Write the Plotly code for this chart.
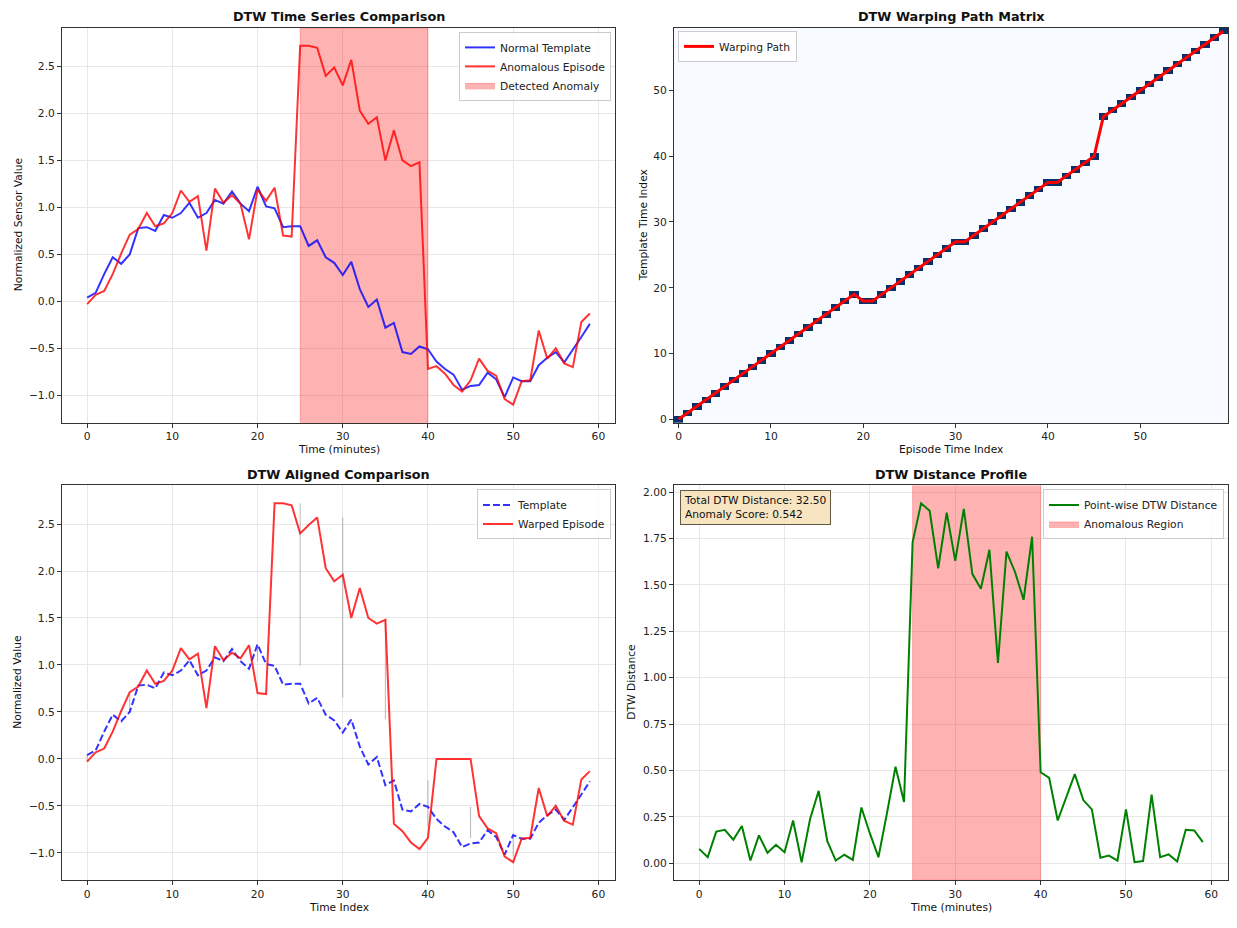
import numpy as np
import plotly.graph_objects as go

# ---------------- data ----------------
time_idx = list(range(60))

template = [0.04, 0.09, 0.29, 0.47, 0.40, 0.50, 0.78, 0.79, 0.75, 0.92,
            0.89, 0.94, 1.05, 0.89, 0.94, 1.08, 1.04, 1.17, 1.04, 0.96,
            1.22, 1.01, 0.99, 0.79, 0.80, 0.80, 0.59, 0.65, 0.47, 0.41,
            0.28, 0.42, 0.13, -0.06, 0.02, -0.28, -0.23, -0.54, -0.56, -0.48,
            -0.51, -0.64, -0.72, -0.78, -0.94, -0.90, -0.89, -0.76, -0.83, -1.02,
            -0.81, -0.85, -0.85, -0.68, -0.60, -0.54, -0.65, -0.52, -0.38, -0.24]

episode = [-0.03, 0.07, 0.11, 0.29, 0.51, 0.71, 0.77, 0.94, 0.80, 0.83,
           0.94, 1.18, 1.06, 1.12, 0.54, 1.20, 1.05, 1.13, 1.04, 0.66,
           1.19, 1.07, 1.21, 0.70, 0.69, 2.72, 2.72, 2.70, 2.40, 2.49,
           2.30, 2.57, 2.03, 1.89, 1.96, 1.50, 1.82, 1.50, 1.44, 1.48,
           -0.72, -0.69, -0.77, -0.89, -0.96, -0.84, -0.61, -0.74, -0.79, -1.04,
           -1.10, -0.85, -0.84, -0.31, -0.61, -0.50, -0.66, -0.70, -0.22, -0.13]

warped_episode = [-0.03, 0.07, 0.11, 0.29, 0.51, 0.71, 0.77, 0.94, 0.80, 0.83,
                  0.94, 1.18, 1.06, 1.12, 0.54, 1.20, 1.05, 1.13, 1.07, 1.21,
                  0.70, 0.69, 2.72, 2.72, 2.70, 2.40, 2.49, 2.57, 2.03, 1.89,
                  1.96, 1.50, 1.82, 1.50, 1.44, 1.48, -0.69, -0.77, -0.89, -0.96,
                  -0.84, 0.00, 0.00, 0.00, 0.00, 0.00, -0.61, -0.74, -0.79, -1.04,
                  -1.10, -0.85, -0.84, -0.31, -0.61, -0.50, -0.66, -0.70, -0.22, -0.13]

dtw_distance = [0.077, 0.032, 0.17, 0.18, 0.126, 0.20, 0.014, 0.15, 0.056, 0.099,
                0.059, 0.23, 0.005, 0.24, 0.39, 0.12, 0.014, 0.045, 0.018, 0.30,
                0.16, 0.032, 0.27, 0.52, 0.33, 1.73, 1.94, 1.90, 1.59, 1.89,
                1.63, 1.91, 1.56, 1.48, 1.69, 1.08, 1.68, 1.57, 1.42, 1.76,
                0.49, 0.46, 0.23, 0.35, 0.48, 0.34, 0.29, 0.029, 0.041, 0.014,
                0.29, 0.005, 0.011, 0.37, 0.032, 0.047, 0.009, 0.18, 0.176, 0.113]

path_episode = list(range(60))
path_template = [0, 1, 2, 3, 4, 5, 6, 7, 8, 9,
                 10, 11, 12, 13, 14, 15, 16, 17, 18, 19,
                 18, 18, 19, 20, 21, 22, 23, 24, 25, 26,
                 27, 27, 28, 29, 30, 31, 32, 33, 34, 35,
                 36, 36, 37, 38, 39, 40, 46, 47, 48, 49,
                 50, 51, 52, 53, 54, 55, 56, 57, 58, 59]

conn_idx = [0, 5, 10, 15, 20, 25, 30, 35, 40, 45, 50, 55]
conn_episode = [-0.03, 0.71, 0.94, 1.20, 1.19, 2.72, 2.57, 1.48, -0.72, -0.84, -1.04, -0.50]
conn_template = [0.04, 0.50, 0.89, 1.08, 1.04, 0.99, 0.65, 0.42, -0.23, -0.51, -0.81, -0.54]

anomaly_start, anomaly_end = 25, 40
total_dtw_distance = 32.50
anomaly_score = 0.542

# ---------------- helpers ----------------
W, H = 1237, 928
FONT = "DejaVu Sans"
FS = 10.7


def px_x(p):
    return p / W


def px_y(p):
    return 1 - p / H


def mpl_range(vals, pad=0.05):
    lo, hi = min(vals), max(vals)
    d = hi - lo
    return [lo - pad * d, hi + pad * d]


BLUE = "rgba(0,0,255,0.8)"
RED = "rgba(255,0,0,0.8)"
SPAN = "rgba(255,0,0,0.3)"

fig = go.Figure()

x_rng = mpl_range(time_idx)
y1_rng = mpl_range(template + episode)
y3_rng = mpl_range(template + warped_episode + conn_episode + conn_template)
y4_rng = mpl_range(dtw_distance)

# ---------- panel 1 ----------
fig.add_trace(go.Scatter(
    x=[anomaly_start, anomaly_end, anomaly_end, anomaly_start, anomaly_start],
    y=[y1_rng[0], y1_rng[0], y1_rng[1], y1_rng[1], y1_rng[0]],
    fill="toself", fillcolor=SPAN, mode="lines", line=dict(width=0.8, color="rgba(255,0,0,0.3)"),
    name="Detected Anomaly", legend="legend", legendrank=1003, hoverinfo="skip",
    xaxis="x", yaxis="y"))
fig.add_trace(go.Scatter(x=time_idx, y=template, mode="lines", line=dict(color=BLUE, width=2),
                         name="Normal Template", legend="legend", legendrank=1001,
                         xaxis="x", yaxis="y"))
fig.add_trace(go.Scatter(x=time_idx, y=episode, mode="lines", line=dict(color=RED, width=2),
                         name="Anomalous Episode", legend="legend", legendrank=1002,
                         xaxis="x", yaxis="y"))

# ---------- panel 2 ----------
z = np.zeros((60, 60))
z[np.array(path_template), np.array(path_episode)] = 1
fig.add_trace(go.Heatmap(z=z, x=list(range(60)), y=list(range(60)),
                         colorscale=[[0, "#f7fbff"], [1, "#08306b"]], showscale=False,
                         xaxis="x2", yaxis="y2", hoverinfo="skip"))
fig.add_trace(go.Scatter(x=path_episode, y=path_template, mode="lines",
                         line=dict(color="red", width=3), name="Warping Path",
                         legend="legend2", xaxis="x2", yaxis="y2"))

# ---------- panel 3 ----------
cx, cy = [], []
for i, a, b in zip(conn_idx, conn_episode, conn_template):
    cx += [i, i, None]
    cy += [a, b, None]
fig.add_trace(go.Scatter(x=cx, y=cy, mode="lines", line=dict(color="rgba(128,128,128,0.55)", width=1),
                         showlegend=False, hoverinfo="skip", xaxis="x3", yaxis="y3"))
fig.add_trace(go.Scatter(x=time_idx, y=template, mode="lines",
                         line=dict(color=BLUE, width=2, dash="7px,3px"),
                         name="Template", legend="legend3", legendrank=1001,
                         xaxis="x3", yaxis="y3"))
fig.add_trace(go.Scatter(x=time_idx, y=warped_episode, mode="lines",
                         line=dict(color=RED, width=2),
                         name="Warped Episode", legend="legend3", legendrank=1002,
                         xaxis="x3", yaxis="y3"))

# ---------- panel 4 ----------
fig.add_trace(go.Scatter(
    x=[anomaly_start, anomaly_end, anomaly_end, anomaly_start, anomaly_start],
    y=[y4_rng[0], y4_rng[0], y4_rng[1], y4_rng[1], y4_rng[0]],
    fill="toself", fillcolor=SPAN, mode="lines", line=dict(width=0.8, color="rgba(255,0,0,0.3)"),
    name="Anomalous Region", legend="legend4", legendrank=1002, hoverinfo="skip",
    xaxis="x4", yaxis="y4"))
fig.add_trace(go.Scatter(x=time_idx, y=dtw_distance, mode="lines",
                         line=dict(color="green", width=2),
                         name="Point-wise DTW Distance", legend="legend4", legendrank=1001,
                         xaxis="x4", yaxis="y4"))

# ---------------- layout ----------------
L1, R1 = 62, 615
L2, R2 = 674, 1228
T1, B1 = 28, 424
T2, B2 = 487, 883

axis_common = dict(showline=True, mirror=True, linecolor="#333333", linewidth=1,
                   ticks="outside", ticklen=4, tickcolor="#333333",
                   showgrid=True, gridcolor="#e8e8e8", gridwidth=1, zeroline=False,
                   tickfont=dict(family=FONT, size=FS, color="#222222"))

fig.update_layout(
    width=W, height=H, margin=dict(l=0, r=0, t=0, b=0),
    paper_bgcolor="white", plot_bgcolor="white",
    font=dict(family=FONT, size=FS, color="#222222"),
    xaxis=dict(domain=[px_x(L1), px_x(R1)], anchor="y", range=x_rng,
               tickvals=[0, 10, 20, 30, 40, 50, 60], **axis_common),
    yaxis=dict(domain=[px_y(B1), px_y(T1)], anchor="x", range=y1_rng,
               tickvals=[-1.0, -0.5, 0.0, 0.5, 1.0, 1.5, 2.0, 2.5], tickformat=".1f", **axis_common),
    xaxis2=dict(domain=[px_x(L2), px_x(R2)], anchor="y2", range=[-0.5, 59.5],
                tickvals=[0, 10, 20, 30, 40, 50], **{**axis_common, "showgrid": False}),
    yaxis2=dict(domain=[px_y(B1), px_y(T1)], anchor="x2", range=[-0.5, 59.5],
                tickvals=[0, 10, 20, 30, 40, 50], **{**axis_common, "showgrid": False}),
    xaxis3=dict(domain=[px_x(L1), px_x(R1)], anchor="y3", range=x_rng,
                tickvals=[0, 10, 20, 30, 40, 50, 60], **axis_common),
    yaxis3=dict(domain=[px_y(B2), px_y(T2)], anchor="x3", range=y3_rng,
                tickvals=[-1.0, -0.5, 0.0, 0.5, 1.0, 1.5, 2.0, 2.5], tickformat=".1f", **axis_common),
    xaxis4=dict(domain=[px_x(L2), px_x(R2)], anchor="y4", range=x_rng,
                tickvals=[0, 10, 20, 30, 40, 50, 60], **axis_common),
    yaxis4=dict(domain=[px_y(B2), px_y(T2)], anchor="x4", range=y4_rng,
                tickvals=[0, 0.25, 0.5, 0.75, 1.0, 1.25, 1.5, 1.75, 2.0], tickformat=".2f", **axis_common),
)

legend_common = dict(bgcolor="rgba(255,255,255,0.8)", bordercolor="#cccccc", borderwidth=1,
                     font=dict(family=FONT, size=FS, color="#222222"), tracegroupgap=0,
                     itemwidth=30, yanchor="top")
fig.update_layout(
    legend=dict(x=px_x(R1 - 4), y=px_y(T1 + 4), xanchor="right", **legend_common),
    legend2=dict(x=px_x(L2 + 4), y=px_y(T1 + 3), xanchor="left", **legend_common),
    legend3=dict(x=px_x(R1 - 4), y=px_y(T2 + 4), xanchor="right", **legend_common),
    legend4=dict(x=px_x(R2 - 4), y=px_y(T2 + 4), xanchor="right", **legend_common),
)

ann = []


def text(x, y, s, size=FS, bold=False, angle=0):
    ann.append(dict(x=px_x(x), y=px_y(y), xref="paper", yref="paper", text=f"<b>{s}</b>" if bold else s,
                    showarrow=False, xanchor="center", yanchor="middle", textangle=angle,
                    font=dict(family=FONT, size=size, color="#111111")))


TS = 12.8
text((L1 + R1) / 2, 17, "DTW Time Series Comparison", TS, True)
text((L2 + R2) / 2, 17, "DTW Warping Path Matrix", TS, True)
text((L1 + R1) / 2, 476, "DTW Aligned Comparison", TS, True)
text((L2 + R2) / 2, 476, "DTW Distance Profile", TS, True)

text((L1 + R1) / 2, 451, "Time (minutes)")
text((L2 + R2) / 2, 451, "Episode Time Index")
text((L1 + R1) / 2, 910, "Time Index")
text((L2 + R2) / 2, 910, "Time (minutes)")

text(18, (T1 + B1) / 2, "Normalized Sensor Value", angle=-90)
text(643, (T1 + B1) / 2, "Template Time Index", angle=-90)
text(18, (T2 + B2) / 2, "Normalized Value", angle=-90)
text(632, (T2 + B2) / 2, "DTW Distance", angle=-90)

ann.append(dict(x=px_x(L2 + 6), y=px_y(T2 + 5), xref="paper", yref="paper",
                text=f"Total DTW Distance: {total_dtw_distance:.2f}<br>Anomaly Score: {anomaly_score:.3f}",
                showarrow=False, xanchor="left", yanchor="top", align="left",
                bgcolor="rgba(245,222,179,0.8)", bordercolor="rgba(60,50,30,0.8)", borderwidth=1,
                borderpad=3, font=dict(family=FONT, size=FS, color="#111111")))

fig.update_layout(annotations=ann)

fig.write_html("out.html")
